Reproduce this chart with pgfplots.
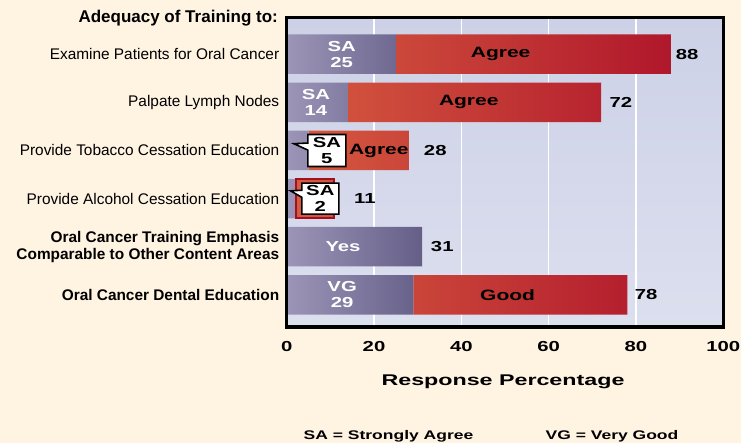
\documentclass[border=0pt]{standalone}
\usepackage{fontspec}
\setmainfont{Liberation Sans}
\newfontfamily\wide[FakeStretch=1.4]{Liberation Sans}
\newfontfamily\widee[FakeStretch=1.5]{Liberation Sans}
\usepackage{pgfplots}
\pgfplotsset{compat=1.18}
\usetikzlibrary{shapes.callouts}
\definecolor{cream}{HTML}{FFF3E2}
\definecolor{plotTop}{HTML}{CDD1E7}
\definecolor{plotBot}{HTML}{DCDFEE}
\definecolor{purL}{HTML}{9C95B7}
\definecolor{purD}{HTML}{655F88}
\definecolor{redL}{HTML}{D65A40}
\definecolor{redD}{HTML}{B0172B}
\definecolor{redB}{HTML}{A0101F}
\newcommand\fsz[2]{\fontsize{#1bp}{#2bp}\selectfont}
\begin{document}
\begin{tikzpicture}
\useasboundingbox (0,0) rectangle (741bp,443bp);
\fill[cream] (0,0) rectangle (741bp,443bp);
\begin{axis}[
  at={(286.7bp,116bp)}, anchor=south west,
  scale only axis, width=436.6bp, height=309.5bp,
  xmin=0, xmax=100, ymin=-0.763, ymax=5.669, y dir=reverse,
  xbar stacked, bar width=0.82,
  axis background/.style={top color=plotTop, bottom color=plotBot},
  axis line style={line width=3.4bp, black},
  xmajorgrids, grid style={white, line width=1.6bp},
  xtick={0,20,...,100}, ytick={0,...,5},
  major tick length=0pt,
  /pgf/number format/assume math mode=true,
  xticklabel style={font=\wide\bfseries\fsz{14.5}{14.5}, yshift=-11bp},
  yticklabel style={align=right, font=\fsz{15.4}{17}, xshift=-4bp},
  yticklabels={Examine Patients for Oral Cancer, Palpate Lymph Nodes, Provide Tobacco Cessation Education, Provide Alcohol Cessation Education, {\textbf{Oral Cancer Training Emphasis}\\\textbf{Comparable to Other Content Areas}}, \textbf{Oral Cancer Dental Education}},
  clip=false,
]
\addplot[draw=none, left color=purL, right color=purD] coordinates {(25,0) (14,1) (5,2) (2,3) (31,4) (29,5)};
\addplot[draw=none, left color=redL, right color=redD] coordinates {(63,0) (58,1) (23,2) (9,3) (0,4) (49,5)};
\coordinate (ab1) at (axis cs:2.2,2.6);
\coordinate (ab2) at (axis cs:10.8,3.4);
\coordinate (s0) at (axis cs:12.6,0);
\coordinate (s1) at (axis cs:6.7,1);
\coordinate (s4) at (axis cs:12.9,4);
\coordinate (s5) at (axis cs:12.7,5);
\coordinate (a0) at (axis cs:49,0);
\coordinate (a1) at (axis cs:41.7,1);
\coordinate (a2) at (axis cs:21.1,2);
\coordinate (a5) at (axis cs:50.6,5);
\coordinate (t0) at (axis cs:89.1,0);
\coordinate (t1) at (axis cs:73.9,1);
\coordinate (t2) at (axis cs:31.4,2);
\coordinate (t3) at (axis cs:15.4,3);
\coordinate (t4) at (axis cs:33,4);
\coordinate (t5) at (axis cs:79.7,5);
\coordinate (c2) at (axis cs:9.2,2);
\coordinate (p2) at (axis cs:1.65,1.86);
\coordinate (c3) at (axis cs:7.7,3);
\coordinate (p3) at (axis cs:0.9,2.84);
\end{axis}
\draw[line width=3.4bp] (current axis.south west) rectangle (current axis.north east);
\draw[redB, line width=1.8bp] (ab1) rectangle (ab2);
\begin{scope}[every node/.style={inner sep=0pt, align=center}]
\node[text=white, font=\wide\bfseries\fsz{14.5}{16}] at (s0) {SA\\25};
\node[text=white, font=\wide\bfseries\fsz{14.5}{16}] at (s1) {SA\\14};
\node[text=white, font=\wide\bfseries\fsz{14.5}{16}] at (s4) {Yes};
\node[text=white, font=\wide\bfseries\fsz{14.5}{16}] at (s5) {VG\\29};
\node[font=\wide\bfseries\fsz{15}{15}] at (a0) {Agree};
\node[font=\wide\bfseries\fsz{15}{15}] at (a1) {Agree};
\node[font=\wide\bfseries\fsz{15}{15}] at (a2) {Agree};
\node[font=\wide\bfseries\fsz{15}{15}] at (a5) {Good};
\node[anchor=west, font=\wide\bfseries\fsz{14.5}{14.5}] at (t0) {88};
\node[anchor=west, font=\wide\bfseries\fsz{14.5}{14.5}] at (t1) {72};
\node[anchor=west, font=\wide\bfseries\fsz{14.5}{14.5}] at (t2) {28};
\node[anchor=west, font=\wide\bfseries\fsz{14.5}{14.5}] at (t3) {11};
\node[anchor=west, font=\wide\bfseries\fsz{14.5}{14.5}] at (t4) {31};
\node[anchor=west, font=\wide\bfseries\fsz{14.5}{14.5}] at (t5) {78};
\node[rectangle callout, fill=white, draw=black, line width=1.6bp, minimum width=38bp, minimum height=32bp, callout absolute pointer={(p2)}, font=\wide\bfseries\fsz{14.5}{16}] at (c2) {SA\\5};
\node[rectangle callout, fill=white, draw=black, line width=1.6bp, minimum width=37bp, minimum height=31bp, callout absolute pointer={(p3)}, font=\wide\bfseries\fsz{14.5}{16}] at (c3) {SA\\2};
\end{scope}
\node[anchor=base east, inner sep=0pt, font=\bfseries\fsz{17}{17}] at (278bp,420.5bp) {Adequacy of Training to:};
\node[anchor=base, inner sep=0pt, font=\widee\bfseries\fsz{15.5}{15.5}] at (503bp,57.3bp) {Response Percentage};
\node[anchor=base, inner sep=0pt, font=\wide\bfseries\fsz{12.5}{12.5}] at (388.5bp,3.7bp) {SA = Strongly Agree};
\node[anchor=base, inner sep=0pt, font=\wide\bfseries\fsz{12.5}{12.5}] at (612bp,3.7bp) {VG = Very Good};
\end{tikzpicture}
\end{document}
